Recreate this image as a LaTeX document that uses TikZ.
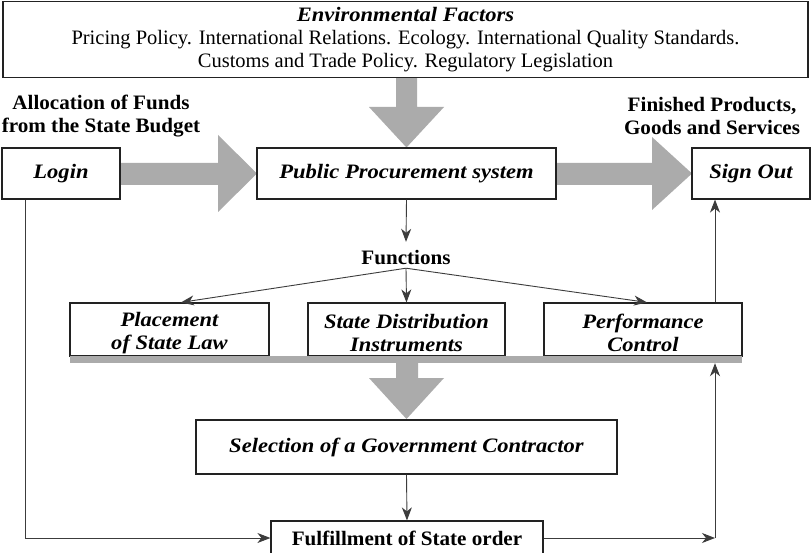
\documentclass[tikz,border=0pt]{standalone}
\usepackage{fontspec}
\setmainfont{Liberation Serif}[BoldFeatures={FakeStretch=1.03},BoldItalicFeatures={FakeStretch=1.1}]
\usetikzlibrary{arrows.meta,calc}
\definecolor{blockgray}{HTML}{ABABAB}
\definecolor{linegray}{HTML}{3C3C3C}
\definecolor{boxline}{HTML}{222222}
\newcommand{\topstrut}{\rule{0pt}{22pt}}
\begin{document}
\begin{tikzpicture}[x=1pt,y=-1pt,
  box/.style={draw=boxline, line width=1.2pt, rectangle, inner sep=0pt, align=center,
    fill=white, font=\fontsize{20.5}{23}\selectfont\bfseries\itshape},
  lbl/.style={inner sep=0pt, align=center, font=\fontsize{20.5}{23}\selectfont\bfseries},
  conn/.style={draw=linegray, line width=0.9pt, -{Stealth[length=13pt,width=10pt,inset=4pt]}},
  blockarrow/.style={fill=blockgray, draw=none}]
\clip (0,0) rectangle (811,553);
\fill[white] (0,0) rectangle (811,553);

% gray block arrows
\fill[blockarrow] (396,77) -- (417,77) -- (417,107) -- (444,107) -- (406.5,147.5) -- (369,107) -- (396,107) -- cycle;
\fill[blockarrow] (120,163) -- (218,163) -- (218,135) -- (257,173.5) -- (218,212) -- (218,185) -- (120,185) -- cycle;
\fill[blockarrow] (556,163) -- (652,163) -- (652,137) -- (692,173.5) -- (652,210) -- (652,185) -- (556,185) -- cycle;
\fill[blockarrow] (396,363) -- (418,363) -- (418,378) -- (444,378) -- (406.5,419) -- (369,378) -- (396,378) -- cycle;

% boxes
\node[box, minimum width=805, minimum height=76, font=\fontsize{20.5}{23}\selectfont] (env) at (405.5,39.5)
  {\textbf{\textit{Environmental Factors}}\\Pricing Policy. International Relations. Ecology. International Quality Standards.\\Customs and Trade Policy. Regulatory Legislation};
\node[box, minimum width=118, minimum height=51] (login) at (61,173.5) {Login};
\node[box, minimum width=299, minimum height=51] (pps) at (406.5,173.5) {Public Procurement system};
\node[box, minimum width=118, minimum height=51] (signout) at (751,173.5) {Sign Out};

\node[lbl] (alloc) at (101,116) {Allocation of Funds\\from the State Budget};
\node[lbl] (fin) at (712,116) {Finished Products,\\Goods and Services};

\node[lbl, minimum height=32] (funcs) at (406,258) {Functions};
\coordinate (fsrc) at ([yshift=6pt]funcs.south);

\node[box, minimum width=199, minimum height=53] (place) at (169.5,329.5) {\topstrut Placement\\of State Law};
\node[box, minimum width=197, minimum height=53] (sdi) at (406.5,329.5) {\topstrut State Distribution\\Instruments};
\node[box, minimum width=198, minimum height=53] (perf) at (643,329.5) {\topstrut Performance\\Control};
\node[fill=blockgray, draw=none, inner sep=0pt, minimum width=672, minimum height=7] (bar) at (406,359.5) {};

\node[box, minimum width=421, minimum height=54] (sel) at (406.5,447) {Selection of a Government Contractor};
\node[box, minimum width=272, minimum height=34, font=\fontsize{20.5}{23}\selectfont\bfseries] (ful) at (407,538) {Fulfillment of State order};

% connectors
\draw[conn] (pps.south) -- (funcs.north);
\draw[conn] (fsrc) -- ([xshift=11.5pt]place.north);
\draw[conn] (fsrc) -- (sdi.north);
\draw[conn] (fsrc) -- ([xshift=4pt]perf.north);
\draw[conn] (sel.south) -- (ful.north);
\draw[conn] ([xshift=24pt]login.south west) |- (ful.west);
\coordinate (rc) at (715,538);
\draw[conn] (ful.east) -- (rc);
\draw[conn] (rc) -- (rc |- bar.south);
\draw[conn] (rc |- perf.north) -- (rc |- signout.south);
\end{tikzpicture}
\end{document}
